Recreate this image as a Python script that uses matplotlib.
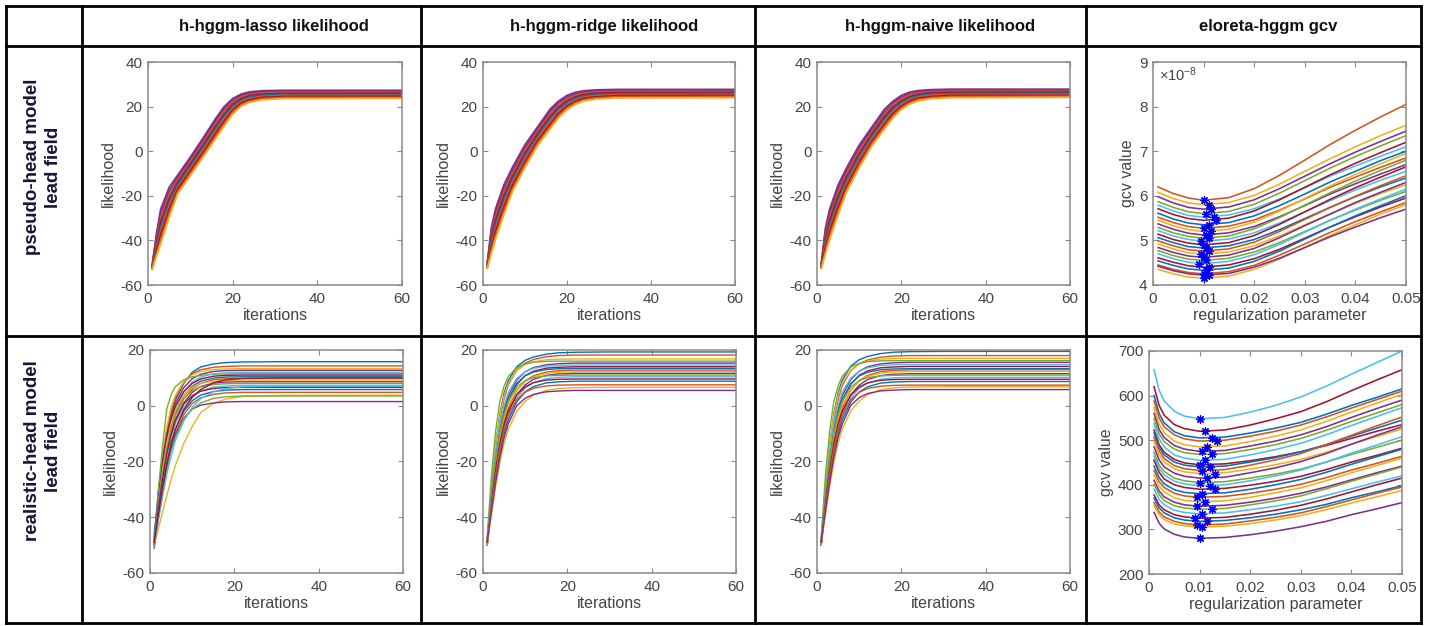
import matplotlib
matplotlib.use("Agg")
import matplotlib.pyplot as plt
from matplotlib.lines import Line2D
from matplotlib.ticker import FuncFormatter

plt.rcParams['font.family'] = ['Liberation Sans', 'DejaVu Sans']
plt.rcParams['mathtext.fontset'] = 'custom'
plt.rcParams['mathtext.rm'] = 'Liberation Sans'
plt.rcParams['mathtext.it'] = 'Liberation Sans:italic'

# ---- table text ----
col_titles = ['h-hggm-lasso likelihood', 'h-hggm-ridge likelihood',
              'h-hggm-naive likelihood', 'eloreta-hggm gcv']
row_titles = ['pseudo-head model\nlead field', 'realistic-head model\nlead field']

# ---- likelihood curves, pseudo-head lead field (row 1) ----
iters_row1 = [1, 2, 3, 5, 7, 10, 13, 16, 18, 20, 22, 24, 27, 32, 60]

lasso_pseudo = [
    [-51.0, -37.0, -26.0, -16.2, -10.8, -2.7, 5.9, 14.7, 20.0, 23.6, 25.6, 26.6, 27.1, 27.3, 27.3],
    [-51.2, -38.2, -27.9, -17.9, -11.9, -3.7, 4.8, 13.6, 18.9, 22.7, 24.9, 26.0, 26.6, 26.8, 26.9],
    [-51.5, -39.5, -29.9, -19.6, -12.9, -4.8, 3.8, 12.5, 17.8, 21.9, 24.3, 25.4, 26.1, 26.4, 26.4],
    [-51.7, -40.8, -31.8, -21.3, -14.0, -5.8, 2.7, 11.3, 16.7, 21.0, 23.6, 24.9, 25.6, 25.9, 26.0],
    [-52.0, -42.0, -33.8, -23.0, -15.0, -6.9, 1.6, 10.2, 15.7, 20.1, 22.9, 24.3, 25.1, 25.5, 25.5],
    [-52.2, -43.3, -35.7, -24.6, -16.1, -7.9, 0.5, 9.1, 14.6, 19.2, 22.2, 23.7, 24.6, 25.0, 25.0],
    [-52.5, -44.5, -37.6, -26.3, -17.1, -8.9, -0.6, 8.0, 13.5, 18.4, 21.6, 23.1, 24.1, 24.5, 24.6],
    [-52.7, -45.8, -39.6, -28.0, -18.2, -10.0, -1.6, 6.8, 12.4, 17.5, 20.9, 22.5, 23.6, 24.1, 24.1],
    [-53.0, -47.0, -41.5, -29.7, -19.2, -11.0, -2.7, 5.7, 11.3, 16.6, 20.2, 21.9, 23.1, 23.6, 23.7],
]

ridge_pseudo = [
    [-50.5, -34.2, -25.8, -15.0, -7.3, 2.9, 10.9, 18.9, 22.5, 25.0, 26.4, 27.1, 27.5, 27.7, 27.7],
    [-50.8, -35.7, -27.5, -16.7, -8.7, 1.6, 9.9, 17.8, 21.6, 24.2, 25.7, 26.5, 27.0, 27.2, 27.3],
    [-51.0, -37.1, -29.2, -18.3, -10.0, 0.4, 8.8, 16.7, 20.6, 23.4, 25.1, 26.0, 26.5, 26.8, 26.8],
    [-51.3, -38.6, -30.9, -20.0, -11.4, -0.9, 7.8, 15.6, 19.7, 22.6, 24.4, 25.4, 26.0, 26.3, 26.3],
    [-51.5, -40.0, -32.6, -21.7, -12.8, -2.2, 6.7, 14.5, 18.8, 21.8, 23.7, 24.8, 25.5, 25.8, 25.9],
    [-51.8, -41.5, -34.3, -23.3, -14.1, -3.5, 5.7, 13.4, 17.8, 21.0, 23.0, 24.2, 25.0, 25.3, 25.4],
    [-52.0, -43.0, -36.0, -25.0, -15.5, -4.8, 4.6, 12.2, 16.9, 20.2, 22.4, 23.7, 24.4, 24.9, 25.0],
    [-52.3, -44.5, -37.7, -26.7, -16.9, -6.0, 3.6, 11.1, 15.9, 19.4, 21.7, 23.1, 23.9, 24.4, 24.5],
    [-52.5, -45.9, -39.4, -28.3, -18.2, -7.3, 2.5, 10.0, 15.0, 18.6, 21.0, 22.5, 23.4, 23.9, 24.0],
]

naive_pseudo = [
    [-50.6, -34.5, -26.0, -15.2, -7.5, 2.7, 10.8, 18.8, 22.4, 25.0, 26.5, 27.2, 27.6, 27.8, 27.8],
    [-50.9, -35.9, -27.7, -16.9, -8.9, 1.4, 9.7, 17.7, 21.5, 24.2, 25.8, 26.6, 27.1, 27.3, 27.4],
    [-51.1, -37.3, -29.4, -18.5, -10.2, 0.2, 8.6, 16.6, 20.5, 23.4, 25.2, 26.1, 26.6, 26.9, 26.9],
    [-51.4, -38.8, -31.1, -20.2, -11.6, -1.1, 7.6, 15.5, 19.6, 22.6, 24.5, 25.5, 26.1, 26.4, 26.4],
    [-51.6, -40.2, -32.8, -21.9, -13.0, -2.4, 6.5, 14.4, 18.7, 21.8, 23.8, 24.9, 25.6, 25.9, 26.0],
    [-51.9, -41.7, -34.5, -23.5, -14.3, -3.7, 5.5, 13.3, 17.7, 21.0, 23.1, 24.3, 25.1, 25.4, 25.5],
    [-52.1, -43.2, -36.2, -25.2, -15.7, -5.0, 4.4, 12.1, 16.8, 20.2, 22.5, 23.8, 24.5, 25.0, 25.0],
    [-52.4, -44.7, -37.9, -26.9, -17.1, -6.2, 3.4, 11.0, 15.8, 19.4, 21.8, 23.2, 24.0, 24.5, 24.6],
    [-52.6, -46.1, -39.6, -28.5, -18.4, -7.5, 2.3, 9.9, 14.9, 18.7, 21.1, 22.6, 23.5, 24.0, 24.2],
]

# ---- likelihood curves, realistic-head lead field (row 2) ----
iters_row2 = [1, 2, 3, 4, 5, 6, 8, 10, 12, 15, 18, 22, 30, 60]

lasso_real = [
    [-49, -33, -20, -10, -3.0, 2.0, 8.0, 12.0, 13.9, 15.0, 15.5, 15.7, 15.8, 15.8],
    [-48, -32, -19, -9, -2.0, 2.8, 8.3, 11.5, 12.9, 13.8, 14.1, 14.3, 14.3, 14.3],
    [-50, -31, -17, -7.5, -0.5, 3.8, 8.6, 11.1, 12.3, 13.0, 13.2, 13.3, 13.3, 13.3],
    [-47, -31, -19, -10, -4.0, 0.8, 6.5, 9.7, 11.3, 12.3, 12.6, 12.7, 12.7, 12.7],
    [-48, -30, -14, -1, 4.0, 6.8, 9.3, 10.4, 10.9, 11.3, 11.4, 11.5, 11.5, 11.5],
    [-49, -34, -22, -12.5, -5.5, -1.0, 5.0, 8.5, 10.3, 11.5, 11.8, 12.0, 12.0, 12.0],
    [-50, -34, -21, -11.5, -5.0, -0.2, 5.0, 8.0, 9.6, 10.6, 10.9, 11.0, 11.0, 11.0],
    [-46, -33, -22, -13.5, -7.0, -2.5, 3.6, 7.0, 8.8, 9.9, 10.3, 10.4, 10.4, 10.4],
    [-50, -36, -24.5, -15.5, -8.5, -3.5, 2.4, 6.0, 8.0, 9.3, 9.7, 9.8, 9.8, 9.8],
    [-49, -35, -23, -13.5, -6.5, -1.8, 3.8, 6.6, 8.0, 8.8, 9.1, 9.2, 9.2, 9.2],
    [-48, -36, -25, -16.5, -10.0, -5.0, 1.0, 4.8, 6.9, 8.1, 8.5, 8.6, 8.6, 8.6],
    [-51, -37, -25, -15.5, -8.5, -3.2, 2.6, 5.4, 6.8, 7.6, 7.9, 8.0, 8.0, 8.0],
    [-49, -37, -26.5, -18, -11.5, -6.5, -0.6, 3.2, 5.3, 6.7, 7.1, 7.3, 7.3, 7.3],
    [-50, -37, -26, -17, -10.5, -5.5, 0.6, 3.6, 5.2, 6.2, 6.5, 6.6, 6.6, 6.6],
    [-50, -39, -29, -20.5, -13.5, -8.5, -2.0, 1.8, 3.8, 5.1, 5.6, 5.8, 5.8, 5.8],
    [-51, -40, -30, -21.5, -15.0, -10.0, -3.2, 0.8, 2.8, 4.1, 4.6, 4.8, 4.8, 4.8],
    [-50, -44, -38, -32, -26.5, -21.5, -13.5, -7.5, -2.5, 0.8, 2.4, 3.3, 3.7, 3.8],
    [-50, -40, -30.5, -22, -15.5, -10.5, -4.5, -1.2, 0.2, 1.0, 1.4, 1.5, 1.5, 1.5],
    [-49, -40, -31, -23, -16.5, -11.5, -5.0, -1.2, 1.0, 2.6, 3.2, 3.5, 3.5, 3.5],
    [-50, -41, -32.5, -24.5, -18.0, -12.5, -5.5, -0.5, 2.5, 5.0, 6.2, 6.8, 7.0, 7.0],
    [-49, -39, -29.5, -21, -14.0, -8.5, -1.5, 3.0, 5.8, 8.2, 9.3, 9.8, 10.0, 10.0],
]

ridge_real = [
    [-49, -30, -14, -3, 4.5, 9.0, 14.0, 16.3, 17.5, 18.5, 19.0, 19.2, 19.3, 19.3],
    [-48, -31, -16, -5, 2.5, 7.5, 12.8, 15.3, 16.6, 17.6, 18.0, 18.2, 18.2, 18.2],
    [-49, -29, -14, -3.5, 3.5, 8.0, 12.6, 14.8, 15.8, 16.5, 16.7, 16.8, 16.8, 16.8],
    [-49, -32, -18, -8, -1.3, 3.5, 9.2, 12.2, 13.7, 14.7, 15.1, 15.3, 15.3, 15.3],
    [-47, -25, -9, 1.5, 7.0, 10.5, 13.7, 15.0, 15.6, 15.9, 16.0, 16.0, 16.0, 16.0],
    [-48, -31, -17, -6.5, 0.0, 4.8, 9.8, 12.2, 13.4, 14.2, 14.5, 14.6, 14.6, 14.6],
    [-50, -34, -20.5, -10.5, -3.5, 1.5, 7.6, 10.8, 12.4, 13.5, 13.8, 14.0, 14.0, 14.0],
    [-49, -33, -19.5, -9.5, -2.5, 2.3, 8.0, 10.8, 12.1, 13.0, 13.3, 13.4, 13.4, 13.4],
    [-48, -34, -22, -12.5, -5.5, -0.8, 5.5, 8.9, 10.8, 12.1, 12.6, 12.8, 12.8, 12.8],
    [-49, -34, -21, -11.5, -4.5, 0.0, 5.7, 8.8, 10.4, 11.6, 12.0, 12.2, 12.2, 12.2],
    [-50, -36, -24, -14.5, -7.5, -2.5, 4.0, 7.5, 9.5, 10.9, 11.4, 11.6, 11.6, 11.6],
    [-49, -33, -19.5, -9.5, -3.0, 1.6, 6.7, 9.0, 10.1, 10.7, 10.9, 11.0, 11.0, 11.0],
    [-48, -35, -24, -15, -8.5, -3.5, 2.8, 6.3, 8.3, 9.7, 10.2, 10.4, 10.4, 10.4],
    [-50, -35, -23, -13.5, -6.5, -1.8, 3.9, 6.8, 8.3, 9.2, 9.5, 9.6, 9.6, 9.6],
    [-49, -37, -26, -17, -10.0, -5.0, 1.4, 5.0, 6.9, 8.2, 8.6, 8.8, 8.8, 8.8],
    [-49, -36, -25, -15.5, -8.5, -3.5, 2.2, 4.9, 6.3, 7.1, 7.4, 7.5, 7.5, 7.5],
    [-50, -39, -29, -20.5, -13.5, -8.5, -2.0, 1.6, 3.8, 5.5, 6.2, 6.5, 6.6, 6.6],
    [-49, -38, -27.5, -18.5, -11.5, -6.5, 0.0, 2.7, 4.1, 5.0, 5.3, 5.5, 5.5, 5.5],
]

naive_real = [
    [-49, -30, -14, -3, 4.6, 9.2, 14.2, 16.5, 17.7, 18.7, 19.2, 19.4, 19.5, 19.5],
    [-48, -31, -16, -5.2, 2.3, 7.3, 12.6, 15.1, 16.4, 17.4, 17.8, 18.0, 18.0, 18.0],
    [-49, -29, -14, -3.5, 3.6, 8.1, 12.8, 15.0, 16.0, 16.7, 16.9, 17.0, 17.0, 17.0],
    [-49, -32, -18, -8, -1.2, 3.7, 9.4, 12.4, 14.0, 15.0, 15.4, 15.6, 15.6, 15.6],
    [-47, -25, -9, 1.6, 7.1, 10.6, 13.9, 15.2, 15.8, 16.1, 16.2, 16.2, 16.2, 16.2],
    [-48, -31, -17, -6.5, 0.1, 4.9, 9.9, 12.4, 13.6, 14.4, 14.7, 14.8, 14.8, 14.8],
    [-50, -34, -20.5, -10.5, -3.4, 1.6, 7.7, 10.9, 12.5, 13.6, 13.9, 14.1, 14.1, 14.1],
    [-49, -33, -19.5, -9.5, -2.4, 2.3, 7.9, 10.7, 12.0, 12.9, 13.2, 13.3, 13.3, 13.3],
    [-48, -34, -22, -12.5, -5.4, -0.7, 5.6, 9.0, 10.9, 12.2, 12.7, 12.9, 12.9, 12.9],
    [-49, -34, -21, -11.5, -4.4, 0.1, 5.8, 8.9, 10.5, 11.7, 12.1, 12.3, 12.3, 12.3],
    [-50, -36, -24, -14.5, -7.5, -2.5, 3.9, 7.4, 9.4, 10.8, 11.3, 11.5, 11.5, 11.5],
    [-49, -33, -19.5, -9.5, -3.0, 1.6, 6.7, 9.0, 10.1, 10.7, 10.9, 11.0, 11.0, 11.0],
    [-48, -35, -24, -15, -8.5, -3.5, 2.7, 6.2, 8.1, 9.5, 10.0, 10.2, 10.2, 10.2],
    [-50, -35, -23, -13.5, -6.5, -1.8, 3.8, 6.7, 8.2, 9.1, 9.4, 9.5, 9.5, 9.5],
    [-49, -37, -26, -17, -10.0, -5.0, 1.3, 4.9, 6.8, 8.1, 8.5, 8.7, 8.7, 8.7],
    [-49, -36, -25, -15.5, -8.5, -3.5, 2.1, 4.8, 6.2, 7.0, 7.3, 7.4, 7.4, 7.4],
    [-50, -39, -29, -20.5, -13.5, -8.4, -1.9, 1.7, 3.9, 5.7, 6.4, 6.7, 6.8, 6.8],
    [-49, -38, -27.5, -18.5, -11.5, -6.5, 0.1, 2.9, 4.4, 5.3, 5.6, 5.8, 5.8, 5.8],
]

# ---- eloreta-hggm gcv, pseudo-head (values in units of 1e-8) ----
lam_pseudo = [0.001, 0.004, 0.007, 0.01, 0.015, 0.02, 0.025, 0.03, 0.035, 0.04, 0.045, 0.05]
gcv_pseudo = [
    [6.20, 6.05, 5.95, 5.90, 5.96, 6.16, 6.46, 6.80, 7.15, 7.47, 7.77, 8.05],
    [6.08, 5.94, 5.84, 5.80, 5.85, 6.01, 6.26, 6.55, 6.83, 7.10, 7.35, 7.58],
    [5.98, 5.84, 5.74, 5.70, 5.75, 5.91, 6.16, 6.44, 6.72, 6.98, 7.22, 7.45],
    [5.87, 5.74, 5.64, 5.60, 5.65, 5.81, 6.06, 6.34, 6.62, 6.88, 7.12, 7.35],
    [5.79, 5.66, 5.56, 5.52, 5.57, 5.71, 5.93, 6.18, 6.44, 6.67, 6.89, 7.10],
    [5.71, 5.58, 5.49, 5.45, 5.50, 5.66, 5.91, 6.19, 6.47, 6.73, 6.97, 7.20],
    [5.61, 5.48, 5.39, 5.35, 5.40, 5.55, 5.78, 6.04, 6.31, 6.55, 6.79, 7.00],
    [5.52, 5.40, 5.31, 5.27, 5.32, 5.46, 5.68, 5.93, 6.19, 6.42, 6.64, 6.85],
    [5.45, 5.33, 5.24, 5.20, 5.25, 5.41, 5.66, 5.94, 6.22, 6.48, 6.72, 6.95],
    [5.37, 5.25, 5.16, 5.12, 5.17, 5.31, 5.53, 5.78, 6.04, 6.27, 6.49, 6.70],
    [5.29, 5.17, 5.09, 5.05, 5.10, 5.26, 5.51, 5.79, 6.07, 6.33, 6.57, 6.80],
    [5.22, 5.10, 5.02, 4.98, 5.03, 5.17, 5.39, 5.64, 5.89, 6.13, 6.35, 6.55],
    [5.14, 5.02, 4.94, 4.90, 4.95, 5.11, 5.36, 5.64, 5.92, 6.18, 6.42, 6.65],
    [5.06, 4.95, 4.86, 4.83, 4.88, 5.02, 5.24, 5.49, 5.74, 5.98, 6.20, 6.40],
    [4.99, 4.88, 4.79, 4.76, 4.81, 4.96, 5.20, 5.47, 5.74, 5.99, 6.23, 6.45],
    [4.92, 4.81, 4.72, 4.69, 4.74, 4.88, 5.10, 5.35, 5.59, 5.83, 6.05, 6.25],
    [4.84, 4.73, 4.65, 4.62, 4.67, 4.82, 5.06, 5.33, 5.59, 5.85, 6.08, 6.30],
    [4.77, 4.66, 4.58, 4.55, 4.60, 4.74, 4.95, 5.20, 5.45, 5.68, 5.90, 6.10],
    [4.70, 4.59, 4.51, 4.48, 4.53, 4.68, 4.91, 5.18, 5.45, 5.70, 5.93, 6.15],
    [4.61, 4.51, 4.43, 4.40, 4.45, 4.59, 4.80, 5.05, 5.30, 5.53, 5.75, 5.95],
    [4.54, 4.44, 4.36, 4.33, 4.38, 4.53, 4.76, 5.03, 5.30, 5.55, 5.78, 6.00],
    [4.45, 4.35, 4.28, 4.25, 4.30, 4.44, 4.67, 4.92, 5.18, 5.42, 5.64, 5.85],
    [4.35, 4.25, 4.18, 4.15, 4.20, 4.35, 4.58, 4.84, 5.11, 5.35, 5.59, 5.80],
    [4.42, 4.32, 4.25, 4.22, 4.26, 4.40, 4.60, 4.84, 5.08, 5.30, 5.51, 5.70],
]
# selected regularization parameter (blue asterisks)
best_lam_pseudo = [0.010, 0.011, 0.0115, 0.0105, 0.012, 0.0125, 0.011, 0.010,
                   0.0115, 0.0105, 0.011, 0.0095, 0.010, 0.0105, 0.011, 0.0095,
                   0.010, 0.0105, 0.009, 0.011, 0.0105, 0.010, 0.010, 0.011]

# ---- eloreta-hggm gcv, realistic-head ----
lam_real = [0.001, 0.002, 0.003, 0.005, 0.007, 0.01, 0.015, 0.02, 0.025,
            0.03, 0.035, 0.04, 0.045, 0.05]
gcv_real = [
    [658, 612, 588, 565, 554, 548, 551, 563, 578, 597, 621, 648, 674, 700],
    [620, 578, 556, 535, 526, 520, 523, 534, 548, 564, 586, 611, 635, 658],
    [600, 560, 539, 519, 510, 505, 507, 516, 527, 540, 558, 578, 596, 615],
    [588, 550, 530, 512, 503, 498, 500, 509, 520, 534, 552, 572, 591, 610],
    [573, 536, 517, 498, 490, 485, 487, 497, 509, 523, 542, 563, 583, 603],
    [560, 524, 506, 488, 480, 475, 477, 487, 498, 512, 530, 551, 571, 590],
    [548, 514, 497, 480, 472, 468, 470, 479, 490, 504, 522, 542, 561, 580],
    [537, 503, 485, 467, 460, 455, 457, 467, 479, 493, 512, 533, 553, 573],
    [523, 490, 473, 457, 449, 445, 447, 454, 463, 474, 488, 504, 520, 535],
    [516, 484, 467, 451, 444, 440, 442, 451, 461, 474, 490, 509, 527, 545],
    [507, 476, 459, 443, 436, 432, 434, 444, 456, 470, 490, 511, 532, 552],
    [497, 467, 451, 436, 429, 425, 427, 435, 445, 457, 473, 491, 508, 525],
    [485, 456, 440, 426, 419, 415, 417, 427, 438, 452, 470, 491, 511, 530],
    [473, 444, 430, 415, 409, 405, 407, 415, 424, 435, 451, 468, 484, 500],
    [464, 436, 422, 408, 402, 398, 400, 409, 420, 433, 451, 471, 489, 508],
    [455, 428, 413, 400, 394, 390, 392, 399, 408, 419, 434, 451, 466, 482],
    [442, 416, 402, 389, 383, 380, 382, 390, 400, 412, 428, 446, 463, 480],
    [432, 407, 394, 381, 375, 372, 374, 381, 390, 401, 416, 433, 448, 464],
    [422, 397, 384, 371, 365, 362, 364, 372, 382, 393, 409, 427, 443, 460],
    [410, 386, 373, 361, 355, 352, 354, 361, 370, 381, 395, 411, 427, 442],
    [401, 378, 365, 353, 348, 345, 347, 355, 364, 375, 391, 408, 424, 440],
    [390, 367, 355, 343, 338, 335, 337, 344, 352, 362, 376, 391, 406, 420],
    [377, 355, 344, 333, 328, 325, 327, 334, 343, 354, 368, 384, 400, 415],
    [370, 348, 337, 326, 321, 318, 320, 326, 334, 344, 356, 371, 384, 398],
    [360, 339, 328, 318, 313, 310, 312, 319, 327, 337, 351, 366, 381, 395],
    [353, 333, 322, 312, 308, 305, 307, 313, 321, 331, 344, 359, 373, 387],
    [338, 314, 301, 289, 283, 280, 282, 288, 296, 306, 318, 333, 346, 360],
]
best_lam_real = [0.010, 0.011, 0.0125, 0.0135, 0.0115, 0.0105, 0.0125, 0.011,
                 0.010, 0.012, 0.0105, 0.013, 0.0115, 0.010, 0.012, 0.013,
                 0.0105, 0.0095, 0.011, 0.0095, 0.0125, 0.0105, 0.009, 0.0115,
                 0.0095, 0.0105, 0.010]

# ---- styling ----
MATLAB = ['#0072BD', '#D95319', '#EDB120', '#7E2F8E', '#77AC30', '#4DBEEE', '#A2142F']
BAND = ['#7E2F8E', '#7E2F8E', '#D95319', '#A2142F', '#0072BD',
        '#D95319', '#A2142F', '#D95319', '#EDB120']
EDGE = '#8a8a8a'
TXT = '#444444'

W, H = 1432, 626
fig = plt.figure(figsize=(W / 100, H / 100), dpi=100)


def px_axes(l, t, r, b):
    return fig.add_axes([l / W, 1 - b / H, (r - l) / W, (b - t) / H])


def style(ax, xlim, ylim, xticks, yticks, xlabel, ylabel):
    ax.set_xlim(*xlim)
    ax.set_ylim(*ylim)
    ax.set_xticks(xticks)
    ax.set_yticks(yticks)
    fmt = FuncFormatter(lambda v, p: f'{v:g}')
    ax.xaxis.set_major_formatter(fmt)
    ax.yaxis.set_major_formatter(fmt)
    ax.tick_params(direction='in', top=True, right=True, length=3.5, width=0.8,
                   color=EDGE, labelcolor=TXT, labelsize=11)
    ax.tick_params(axis='x', pad=5)
    ax.tick_params(axis='y', pad=4)
    for s in ax.spines.values():
        s.set_color(EDGE)
        s.set_linewidth(1.1)
    ax.set_xlabel(xlabel, fontsize=11.5, color=TXT, labelpad=1.5)
    ax.set_ylabel(ylabel, fontsize=11.5, color=TXT, labelpad=3)


def lik_panel(box, x, curves, colors, lw, ylim, yticks):
    ax = px_axes(*box)
    for i, c in enumerate(curves):
        ax.plot(x, c, color=colors[i % len(colors)], lw=lw, solid_joinstyle='round')
    style(ax, (0, 60), ylim, [0, 20, 40, 60], yticks, 'iterations', 'likelihood')
    return ax


def gcv_panel(box, lam, curves, best, offset, ylim, yticks):
    ax = px_axes(*box)
    for i, c in enumerate(curves):
        ax.plot(lam, c, color=MATLAB[(i + offset) % 7], lw=1.15, solid_joinstyle='round')
    ax.plot(best, [min(c) for c in curves], ls='none', marker=(8, 2, 0),
            ms=6, mew=0.9, color='#0000FF')
    style(ax, (0, 0.05), ylim, [0, 0.01, 0.02, 0.03, 0.04, 0.05], yticks,
          'regularization parameter', 'gcv value')
    return ax


# row 1
lik_panel((148, 62, 402, 285), iters_row1, lasso_pseudo, BAND, 1.3, (-60, 40), range(-60, 41, 20))
lik_panel((483, 62, 735, 285), iters_row1, ridge_pseudo, BAND, 1.3, (-60, 40), range(-60, 41, 20))
lik_panel((817, 62, 1070, 285), iters_row1, naive_pseudo, BAND, 1.3, (-60, 40), range(-60, 41, 20))
ax4 = gcv_panel((1153, 62, 1406, 285), lam_pseudo, gcv_pseudo, best_lam_pseudo, 1,
                (4, 9), range(4, 10))
ax4.text(0.025, 0.945, r'$\times10^{-8}$', transform=ax4.transAxes, fontsize=10.5,
         color=TXT, ha='left', va='center')

# row 2
lik_panel((150, 350, 403, 573), iters_row2, lasso_real, MATLAB, 1.0, (-60, 20), range(-60, 21, 20))
lik_panel((483, 350, 736, 573), iters_row2, ridge_real, MATLAB, 1.0, (-60, 20), range(-60, 21, 20))
lik_panel((817, 350, 1070, 573), iters_row2, naive_real, MATLAB, 1.0, (-60, 20), range(-60, 21, 20))
gcv_panel((1149, 351, 1402, 574), lam_real, gcv_real, best_lam_real, 5,
          (200, 700), range(200, 701, 100))

# table grid
xs = [6, 82, 421, 755, 1086, 1421]
ys = [6, 46, 336, 623]
for y in ys:
    fig.add_artist(Line2D([xs[0] / W, xs[-1] / W], [1 - y / H, 1 - y / H],
                          color='black', lw=2.0, solid_capstyle='projecting'))
for x in xs:
    fig.add_artist(Line2D([x / W, x / W], [1 - ys[0] / H, 1 - ys[-1] / H],
                          color='black', lw=2.0, solid_capstyle='projecting'))

# headers
for cx, title in zip([274, 604, 940, 1268], col_titles):
    fig.text(cx / W, 1 - 26 / H, title, ha='center', va='center',
             fontsize=12, fontweight='bold', color='#111111')
for cy, title in zip([167, 451], row_titles):
    fig.text(43 / W, 1 - cy / H, title, ha='center', va='center', rotation=90,
             fontsize=13.5, fontweight='bold', color='#14163a', linespacing=1.3,
             multialignment='center')

fig.savefig('out.png', dpi=100)
